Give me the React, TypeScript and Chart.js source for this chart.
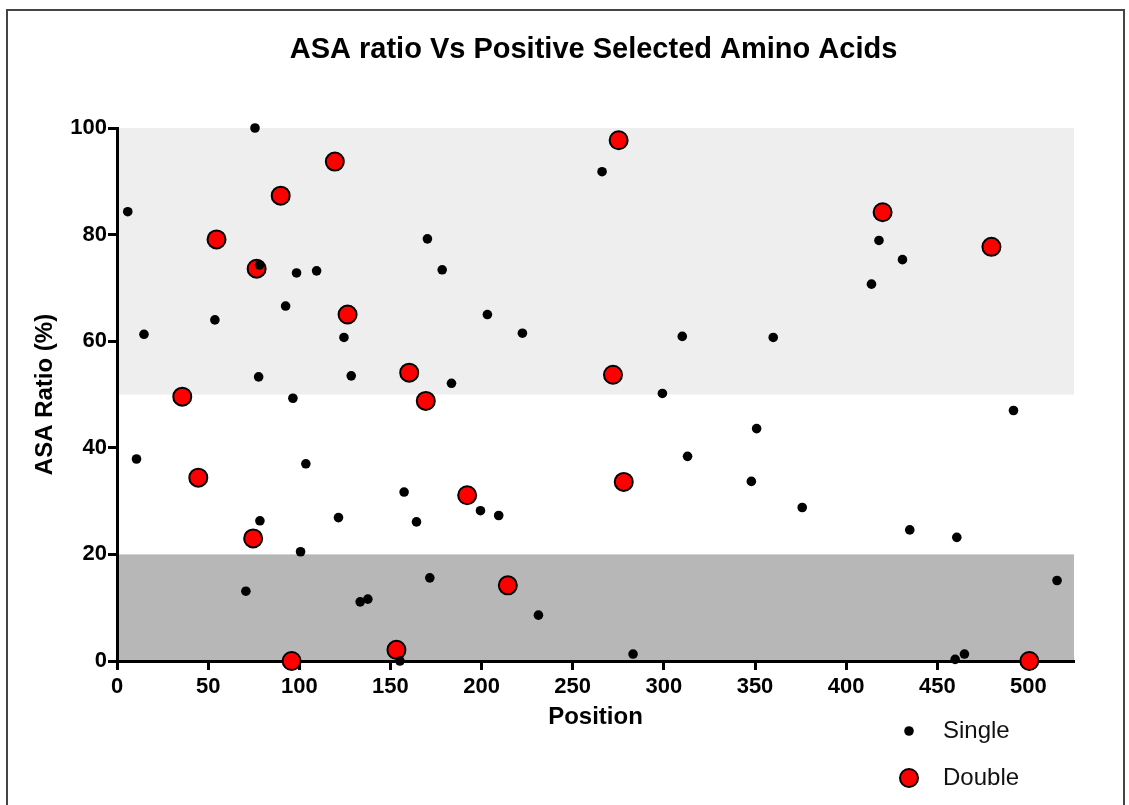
import React, { useEffect, useRef } from "react";
import { Chart, registerables } from "chart.js";

Chart.register(...registerables);

const chartTitle = "ASA ratio Vs Positive Selected Amino Acids";
const xAxisTitle = "Position";
const yAxisTitle = "ASA Ratio (%)";

const xTicks = [0, 50, 100, 150, 200, 250, 300, 350, 400, 450, 500];
const yTicks = [0, 20, 40, 60, 80, 100];

const singleLabel = "Single";
const singleX = [5.9, 14.8, 10.7, 53.7, 70.7, 75.7, 77.7, 78.4, 78.2, 92.5, 96.5, 98.5, 100.7, 103.6, 109.5, 121.5, 124.5, 128.5, 133.4, 137.6, 155.2, 157.5, 164.3, 170.3, 171.6, 178.4, 183.5, 199.4, 203.2, 209.4, 222.4, 231.2, 266.1, 283.1, 299.2, 310.1, 313.0, 348.0, 350.9, 360.0, 375.9, 413.9, 418.0, 430.9, 434.9, 459.8, 460.7, 464.9, 491.8, 515.7];
const singleY = [84.3, 61.3, 37.9, 64.0, 13.1, 100.0, 53.3, 26.3, 74.3, 66.6, 49.3, 72.8, 20.5, 37.0, 73.2, 26.9, 60.7, 53.5, 11.1, 11.6, 0.0, 31.7, 26.1, 79.2, 15.6, 73.4, 52.1, 28.2, 65.0, 27.3, 61.5, 8.6, 91.8, 1.3, 50.2, 60.9, 38.4, 33.7, 43.6, 60.7, 28.8, 70.7, 78.9, 75.3, 24.6, 0.3, 23.2, 1.3, 47.0, 15.1];

const doubleLabel = "Double";
const doubleX = [35.8, 44.6, 54.6, 74.7, 76.6, 89.8, 95.8, 119.5, 126.5, 153.3, 160.3, 169.4, 192.1, 214.4, 272.1, 275.2, 278.0, 420.0, 479.7, 500.5];
const doubleY = [49.6, 34.4, 79.1, 23.0, 73.6, 87.3, 0.0, 93.7, 65.0, 2.1, 54.1, 48.8, 31.1, 14.2, 53.7, 97.7, 33.6, 84.2, 77.7, 0.0];

const bandLow = [50, 0];
const bandHigh = [100, 20];
const bandColors = ["#eeeeee", "#b7b7b7"];

const FONT = "'Liberation Sans', Arial, Helvetica, sans-serif";

const decorPlugin = {
  id: "decor",
  beforeDraw(chart: any) {
    const { ctx, chartArea, scales } = chart;
    const ys = scales.y;
    ctx.save();
    bandLow.forEach((lo, i) => {
      const top = ys.getPixelForValue(bandHigh[i]);
      const bot = ys.getPixelForValue(lo);
      ctx.fillStyle = bandColors[i];
      ctx.fillRect(chartArea.left, top, chartArea.right - chartArea.left, bot - top);
    });
    ctx.restore();
  },
  afterDraw(chart: any) {
    const { ctx, chartArea } = chart;
    ctx.save();
    ctx.fillStyle = "#000";
    ctx.font = `bold 29px ${FONT}`;
    ctx.textAlign = "center";
    ctx.textBaseline = "middle";
    ctx.fillText(chartTitle, (chartArea.left + chartArea.right) / 2 - 2, 50);

    // legend
    chart.data.datasets.forEach((ds: any, i: number) => {
      const cy = 731 + i * 47;
      const cx = 909;
      ctx.beginPath();
      ctx.arc(cx, cy, ds.pointRadius, 0, Math.PI * 2);
      ctx.fillStyle = ds.pointBackgroundColor;
      ctx.fill();
      if (ds.pointBorderWidth > 0) {
        ctx.lineWidth = ds.pointBorderWidth;
        ctx.strokeStyle = ds.pointBorderColor;
        ctx.stroke();
      }
      ctx.fillStyle = "#111";
      ctx.font = `24px ${FONT}`;
      ctx.textAlign = "left";
      ctx.textBaseline = "middle";
      ctx.fillText(ds.label, 943, cy);
    });
    ctx.restore();
  },
};

export default function App() {
  const ref = useRef<HTMLCanvasElement | null>(null);

  useEffect(() => {
    if (!ref.current) return;
    const chart = new Chart(ref.current, {
      type: "scatter",
      data: {
        datasets: [
          {
            label: singleLabel,
            data: singleX.map((x, i) => ({ x, y: singleY[i] })),
            pointRadius: 4.8,
            pointBackgroundColor: "#000000",
            pointBorderColor: "#000000",
            pointBorderWidth: 0,
            pointHoverRadius: 4.8,
            clip: false,
          } as any,
          {
            label: doubleLabel,
            data: doubleX.map((x, i) => ({ x, y: doubleY[i] })),
            pointRadius: 9,
            pointBackgroundColor: "#ff0000",
            pointBorderColor: "#000000",
            pointBorderWidth: 2,
            pointHoverRadius: 9,
            clip: false,
          } as any,
        ],
      },
      options: {
        animation: false,
        responsive: false,
        devicePixelRatio: 1,
        events: [],
        layout: { padding: { top: 128, right: 55, bottom: 71, left: 20 } },
        plugins: {
          legend: { display: false },
          title: { display: false },
          tooltip: { enabled: false },
        },
        scales: {
          x: {
            type: "linear",
            min: 0,
            max: 525,
            afterFit: (s: any) => {
              s.height = 73;
            },
            afterBuildTicks: (s: any) => {
              s.ticks = xTicks.map((v) => ({ value: v }));
            },
            ticks: {
              color: "#000",
              padding: 4,
              font: { family: FONT, size: 22, weight: "bold" },
              maxRotation: 0,
              autoSkip: false,
            },
            grid: {
              drawOnChartArea: false,
              drawTicks: true,
              tickLength: 9,
              tickWidth: 3,
              tickColor: "#000",
            },
            border: { display: true, color: "#000", width: 3 },
            title: {
              display: true,
              text: xAxisTitle,
              color: "#000",
              font: { family: FONT, size: 24, weight: "bold" },
              padding: { top: 0, bottom: 2 },
            },
          },
          y: {
            type: "linear",
            min: 0,
            max: 100,
            afterFit: (s: any) => {
              s.width = 97;
            },
            afterBuildTicks: (s: any) => {
              s.ticks = yTicks.map((v) => ({ value: v }));
            },
            ticks: {
              color: "#000",
              padding: 1,
              font: { family: FONT, size: 22, weight: "bold" },
              autoSkip: false,
            },
            grid: {
              drawOnChartArea: false,
              drawTicks: true,
              tickLength: 9,
              tickWidth: 3,
              tickColor: "#000",
            },
            border: { display: true, color: "#000", width: 3 },
            title: {
              display: true,
              text: yAxisTitle,
              color: "#000",
              font: { family: FONT, size: 24, weight: "bold" },
              padding: { top: 11, bottom: 0 },
            },
          },
        },
      },
      plugins: [decorPlugin],
    });
    return () => chart.destroy();
  }, []);

  return (
    <div style={{ position: "absolute", left: 0, top: 0, width: 1129, height: 805, background: "#fff", overflow: "hidden" }}>
      <div
        style={{
          position: "absolute",
          left: 6,
          top: 9,
          width: 1119,
          height: 800,
          borderLeft: "2px solid #444",
          borderTop: "2px solid #444",
          borderRight: "2px solid #444",
          boxSizing: "border-box",
        }}
      />
      <canvas ref={ref} width={1129} height={805} style={{ position: "absolute", left: 0, top: 0, width: 1129, height: 805 }} />
    </div>
  );
}
